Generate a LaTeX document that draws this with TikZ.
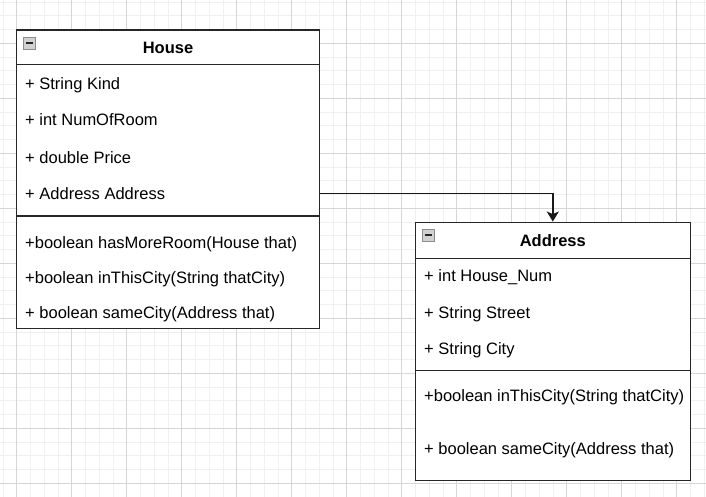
\documentclass[tikz,border=0pt]{standalone}
\usepackage{fontspec}
\setmainfont{Liberation Sans}
\usetikzlibrary{arrows.meta}

\newcommand\classfont{\fontsize{16.5}{20}\selectfont}

\tikzset{
  minorgrid/.style={draw=black!6, line width=0.8pt},
  majorgrid/.style={draw=black!16, line width=0.8pt},
  classbox/.style={draw=black!85, fill=white, line width=1.5pt, inner sep=0pt},
  member/.style={anchor=base west, inner sep=0pt},
  title/.style={anchor=base, inner sep=0pt, font=\classfont\bfseries},
  icon/.style={draw=black!45, fill=black!18, line width=0.8pt, minimum size=12pt, inner sep=0pt,
    path picture={\draw[line width=1.6pt, black!85] ([xshift=2.5pt]path picture bounding box.west) -- ([xshift=-2.5pt]path picture bounding box.east);}}
}

\begin{document}
\begin{tikzpicture}[x=1pt,y=-1pt,font=\classfont]
\useasboundingbox (0,0) rectangle (706,497);

% grid
\fill[white] (0,0) rectangle (706,497);
\foreach \i in {-1,...,51} {
  \draw[minorgrid] ({16.7+13.75*\i},0) -- ++(0,497);
}
\foreach \i in {-3,...,33} {
  \draw[minorgrid] (0,{43.3+13.75*\i}) -- ++(706,0);
}
\foreach \i in {0,...,12} {
  \draw[majorgrid] ({16.7+55*\i},0) -- ++(0,497);
}
\foreach \i in {-1,...,8} {
  \draw[majorgrid] (0,{43.3+55*\i}) -- ++(706,0);
}

% House
\node[classbox, minimum width=302.6pt, minimum height=298.7pt] (house) at (168,179.35) {};
\draw[classbox] (house.west |- 0,64.7) -- (house.east |- 0,64.7);
\draw[classbox] (house.west |- 0,216) -- (house.east |- 0,216);
\node[icon] (houseicon) at (29,43) {};
\node[title] (housetitle) at (168,53.7) {House};
\node[member] (hkind) at (25,89.5) {+ String Kind};
\node[member] (hrooms) at (25,126) {+ int NumOfRoom};
\node[member] (hprice) at (25,164) {+ double Price};
\node[member] (haddr) at (25,199.3) {+ Address Address};
\node[member] (hmore) at (25,248.3) {+boolean hasMoreRoom(House that)};
\node[member] (hcity) at (25,283.3) {+boolean inThisCity(String thatCity)};
\node[member] (hsame) at (25,318.3) {+ boolean sameCity(Address that)};

% Address
\node[classbox, minimum width=275pt, minimum height=258pt] (address) at (552.8,351.3) {};
\draw[classbox] (address.west |- 0,258.3) -- (address.east |- 0,258.3);
\draw[classbox] (address.west |- 0,370.7) -- (address.east |- 0,370.7);
\node[icon] (addricon) at (428,235) {};
\node[title] (addrtitle) at (552.8,246.7) {Address};
\node[member] (anum) at (424,281.7) {+ int House\_Num};
\node[member] (astreet) at (424,318.3) {+ String Street};
\node[member] (acity) at (424,354.3) {+ String City};
\node[member] (aincity) at (424,401.7) {+boolean inThisCity(String thatCity)};
\node[member] (asame) at (424,454) {+ boolean sameCity(Address that)};

\coordinate (link) at (house.east |- 0,193.3);
\draw[line width=1.5pt, black!90, -{Stealth[length=10pt,width=12pt,inset=2.5pt]}] (link) -| (address.north);

\end{tikzpicture}
\end{document}
